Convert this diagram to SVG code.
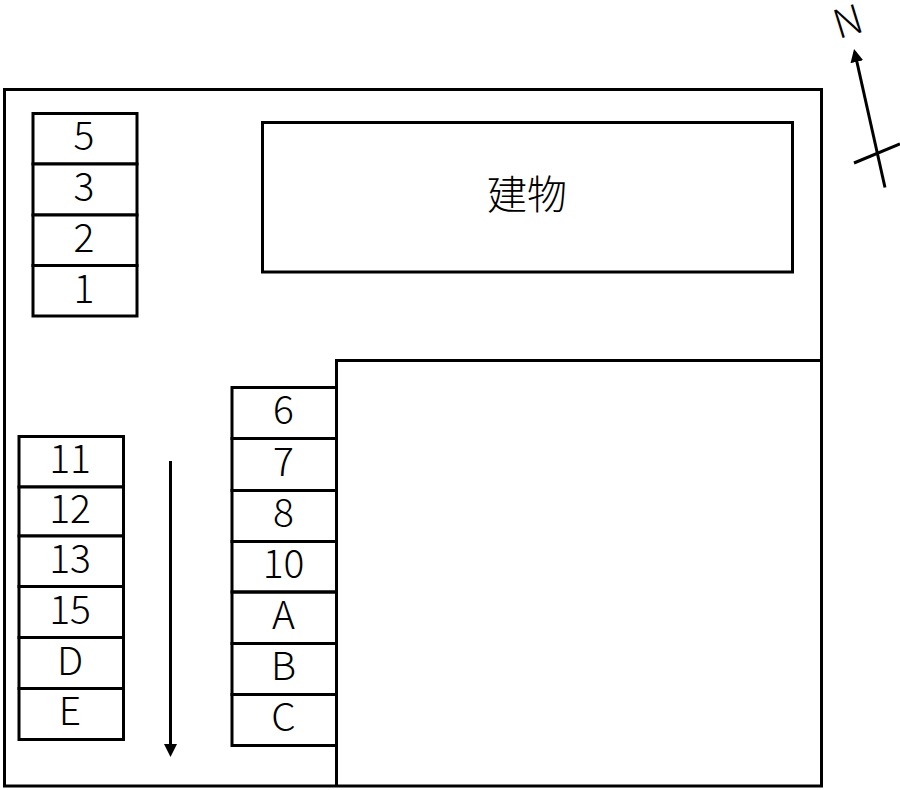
<svg xmlns="http://www.w3.org/2000/svg" width="900" height="790" viewBox="0 0 900 790">
<style>
.b{fill:none;stroke:#000;stroke-width:3}
.c{fill:#fff;stroke:#000;stroke-width:3}
.l{stroke:#000;stroke-width:3;fill:none}
text{font-family:"Noto Sans CJK JP","Noto Sans",sans-serif;font-weight:300;font-size:39px;text-anchor:middle;fill:#000}
.big{font-size:40px}
</style>
<defs><marker id="ah" markerUnits="userSpaceOnUse" markerWidth="14" markerHeight="14" refX="10" refY="7" orient="auto"><path d="M0,0.500L13,7L0,13.500z" fill="#000"/></marker></defs>
<rect width="900" height="790" fill="#fff"/>
<g id="site"><rect class="b" x="4.500" y="89.500" width="817" height="696.500"/></g>
<g id="neighbor"><path class="b" d="M336.500,786V360.500H821.500"/></g>
<g id="building"><rect class="b" x="262.500" y="122.500" width="530" height="149.500"/><text class="big" x="527" y="209">建物</text></g>
<g id="s5"><rect class="c" x="33" y="113.500" width="104" height="50.500"/><text x="84" y="150">5</text></g>
<g id="s3"><rect class="c" x="33" y="164" width="104" height="51"/><text x="84" y="201">3</text></g>
<g id="s2"><rect class="c" x="33" y="215" width="104" height="50.500"/><text x="84" y="252">2</text></g>
<g id="s1"><rect class="c" x="33" y="265.500" width="104" height="50.500"/><text x="84" y="303">1</text></g>
<g id="s11"><rect class="c" x="19" y="436.500" width="104.500" height="50.500"/><text x="70" y="473">11</text></g>
<g id="s12"><rect class="c" x="19" y="487" width="104.500" height="49"/><text x="70" y="523">12</text></g>
<g id="s13"><rect class="c" x="19" y="536" width="104.500" height="50.500"/><text x="70" y="573">13</text></g>
<g id="s15"><rect class="c" x="19" y="586.500" width="104.500" height="51"/><text x="70" y="624">15</text></g>
<g id="sD"><rect class="c" x="19" y="637.500" width="104.500" height="51"/><text x="70" y="675">D</text></g>
<g id="sE"><rect class="c" x="19" y="688.500" width="104.500" height="51"/><text x="70" y="725">E</text></g>
<g id="s6"><path class="b" d="M336,387.500H232V438.500H336"/><text x="283.500" y="424">6</text></g>
<g id="s7"><path class="b" d="M336,438.500H232V490.500H336"/><text x="283.500" y="476">7</text></g>
<g id="s8"><path class="b" d="M336,490.500H232V541.500H336"/><text x="283.500" y="527">8</text></g>
<g id="s10"><path class="b" d="M336,541.500H232V592H336"/><text x="283.500" y="578">10</text></g>
<g id="sA"><path class="b" d="M336,592H232V643.500H336"/><text x="283.500" y="629">A</text></g>
<g id="sB"><path class="b" d="M336,643.500H232V694.500H336"/><text x="283.500" y="680">B</text></g>
<g id="sC"><path class="b" d="M336,694.500H232V745.500H336"/><text x="283.500" y="731">C</text></g>
<g id="connectors">
<line class="l" x1="170.500" y1="461" x2="170.500" y2="754" marker-end="url(#ah)"/>
<line class="l" x1="885" y1="187.500" x2="854.700" y2="52" marker-end="url(#ah)"/>
<line class="l" x1="854" y1="163" x2="900" y2="144"/>
</g>
<g id="north"><text class="big" transform="translate(852,35) rotate(-17)">N</text></g>
</svg>
